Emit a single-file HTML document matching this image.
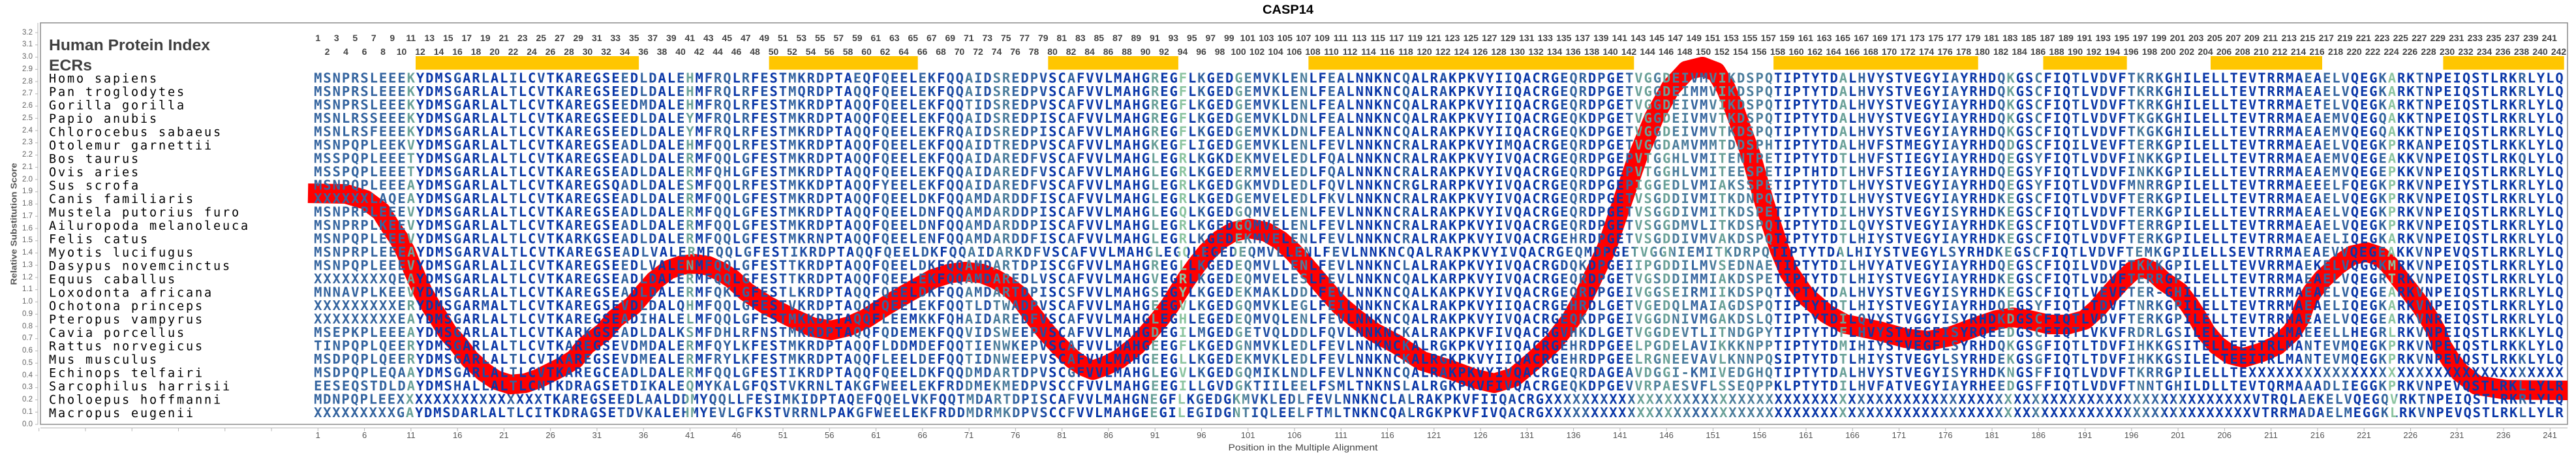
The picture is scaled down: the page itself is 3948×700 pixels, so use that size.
<!DOCTYPE html>
<html><head><meta charset="utf-8">
<style>
html,body{margin:0;padding:0;background:#fff;}
body{width:3948px;height:700px;position:relative;overflow:hidden;}
svg{position:absolute;left:0;top:0;display:block;}
.sp{font-family:"DejaVu Sans Mono",monospace;font-size:18.5px;fill:#000;letter-spacing:2.86px;}
.sq{font-family:"DejaVu Sans Mono",monospace;font-size:20.5px;font-weight:bold;}
.hd{font-family:"Liberation Sans",Arial,sans-serif;font-weight:bold;font-size:24px;fill:#404040;}
stop.c0{stop-color:#0a37a8}
stop.c1{stop-color:#1f4ea4}
stop.c2{stop-color:#34649f}
stop.c3{stop-color:#4c7d9c}
stop.c4{stop-color:#6aa198}
stop.c5{stop-color:#8cc4a0}
.row{position:absolute;display:flex;font-family:"Liberation Sans",Arial,sans-serif;white-space:nowrap;}
.row span{flex:none;text-align:center;}
.tn{font-weight:bold;font-size:14px;line-height:14px;color:#444;}
.tn span{width:28.508px;}
.xl{font-size:13px;line-height:13px;color:#555;top:660px;left:451.665px;}
.xl span{width:71.27px;}
.yl{position:absolute;left:0;top:40.625px;width:50px;font-family:"Liberation Sans",Arial,sans-serif;font-size:11.5px;color:#666;text-align:right;}
.yl div{height:18.75px;line-height:18.75px;}
</style></head>
<body>
<svg width="3948" height="700" viewBox="0 0 3948 700" xmlns="http://www.w3.org/2000/svg">
<defs>
<linearGradient id="g" gradientUnits="userSpaceOnUse" x1="480.2" y1="0" x2="3929.7" y2="0">
<stop offset="0" class="c2"/><stop offset=".04132" class="c2"/>
<stop offset=".04132" class="c4"/><stop offset=".04545" class="c4"/>
<stop offset=".04545" class="c0"/><stop offset=".06198" class="c0"/>
<stop offset=".06198" class="c1"/><stop offset=".06612" class="c1"/>
<stop offset=".06612" class="c0"/><stop offset=".07438" class="c0"/>
<stop offset=".07438" class="c1"/><stop offset=".07851" class="c1"/>
<stop offset=".07851" class="c0"/><stop offset=".08678" class="c0"/>
<stop offset=".08678" class="c2"/><stop offset=".09091" class="c2"/>
<stop offset=".09091" class="c0"/><stop offset=".09917" class="c0"/>
<stop offset=".09917" class="c1"/><stop offset=".10331" class="c1"/>
<stop offset=".10331" class="c0"/><stop offset=".11157" class="c0"/>
<stop offset=".11157" class="c1"/><stop offset=".11570" class="c1"/>
<stop offset=".11570" class="c0"/><stop offset=".11983" class="c0"/>
<stop offset=".11983" class="c1"/><stop offset=".12397" class="c1"/>
<stop offset=".12397" class="c0"/><stop offset=".13636" class="c0"/>
<stop offset=".13636" class="c2"/><stop offset=".14050" class="c2"/>
<stop offset=".14050" class="c0"/><stop offset=".14463" class="c0"/>
<stop offset=".14463" class="c2"/><stop offset=".14876" class="c2"/>
<stop offset=".14876" class="c1"/><stop offset=".15289" class="c1"/>
<stop offset=".15289" class="c0"/><stop offset=".16116" class="c0"/>
<stop offset=".16116" class="c1"/><stop offset=".16529" class="c1"/>
<stop offset=".16529" class="c4"/><stop offset=".16942" class="c4"/>
<stop offset=".16942" class="c0"/><stop offset=".17355" class="c0"/>
<stop offset=".17355" class="c1"/><stop offset=".17769" class="c1"/>
<stop offset=".17769" class="c2"/><stop offset=".18595" class="c2"/>
<stop offset=".18595" class="c0"/><stop offset=".19008" class="c0"/>
<stop offset=".19008" class="c2"/><stop offset=".19421" class="c2"/>
<stop offset=".19421" class="c0"/><stop offset=".19835" class="c0"/>
<stop offset=".19835" class="c1"/><stop offset=".20248" class="c1"/>
<stop offset=".20248" class="c0"/><stop offset=".20661" class="c0"/>
<stop offset=".20661" class="c1"/><stop offset=".21074" class="c1"/>
<stop offset=".21074" class="c2"/><stop offset=".21488" class="c2"/>
<stop offset=".21488" class="c1"/><stop offset=".23140" class="c1"/>
<stop offset=".23140" class="c0"/><stop offset=".23967" class="c0"/>
<stop offset=".23967" class="c2"/><stop offset=".24380" class="c2"/>
<stop offset=".24380" class="c1"/><stop offset=".24793" class="c1"/>
<stop offset=".24793" class="c0"/><stop offset=".25207" class="c0"/>
<stop offset=".25207" class="c2"/><stop offset=".25620" class="c2"/>
<stop offset=".25620" class="c1"/><stop offset=".26446" class="c1"/>
<stop offset=".26446" class="c0"/><stop offset=".26860" class="c0"/>
<stop offset=".26860" class="c2"/><stop offset=".27273" class="c2"/>
<stop offset=".27273" class="c1"/><stop offset=".27686" class="c1"/>
<stop offset=".27686" class="c0"/><stop offset=".28099" class="c0"/>
<stop offset=".28099" class="c1"/><stop offset=".28926" class="c1"/>
<stop offset=".28926" class="c3"/><stop offset=".29339" class="c3"/>
<stop offset=".29339" class="c2"/><stop offset=".29752" class="c2"/>
<stop offset=".29752" class="c1"/><stop offset=".30165" class="c1"/>
<stop offset=".30165" class="c3"/><stop offset=".30992" class="c3"/>
<stop offset=".30992" class="c2"/><stop offset=".31405" class="c2"/>
<stop offset=".31405" class="c1"/><stop offset=".31818" class="c1"/>
<stop offset=".31818" class="c2"/><stop offset=".32231" class="c2"/>
<stop offset=".32231" class="c1"/><stop offset=".32645" class="c1"/>
<stop offset=".32645" class="c0"/><stop offset=".33471" class="c0"/>
<stop offset=".33471" class="c2"/><stop offset=".33884" class="c2"/>
<stop offset=".33884" class="c0"/><stop offset=".37190" class="c0"/>
<stop offset=".37190" class="c4"/><stop offset=".37603" class="c4"/>
<stop offset=".37603" class="c0"/><stop offset=".38430" class="c0"/>
<stop offset=".38430" class="c5"/><stop offset=".38843" class="c5"/>
<stop offset=".38843" class="c0"/><stop offset=".39256" class="c0"/>
<stop offset=".39256" class="c2"/><stop offset=".39669" class="c2"/>
<stop offset=".39669" class="c0"/><stop offset=".40083" class="c0"/>
<stop offset=".40083" class="c1"/><stop offset=".40496" class="c1"/>
<stop offset=".40496" class="c0"/><stop offset=".40909" class="c0"/>
<stop offset=".40909" class="c4"/><stop offset=".41322" class="c4"/>
<stop offset=".41322" class="c3"/><stop offset=".41736" class="c3"/>
<stop offset=".41736" class="c1"/><stop offset=".42562" class="c1"/>
<stop offset=".42562" class="c2"/><stop offset=".42975" class="c2"/>
<stop offset=".42975" class="c0"/><stop offset=".43388" class="c0"/>
<stop offset=".43388" class="c2"/><stop offset=".43802" class="c2"/>
<stop offset=".43802" class="c3"/><stop offset=".44215" class="c3"/>
<stop offset=".44215" class="c0"/><stop offset=".45041" class="c0"/>
<stop offset=".45041" class="c2"/><stop offset=".45455" class="c2"/>
<stop offset=".45455" class="c1"/><stop offset=".45868" class="c1"/>
<stop offset=".45868" class="c0"/><stop offset=".48347" class="c0"/>
<stop offset=".48347" class="c2"/><stop offset=".48760" class="c2"/>
<stop offset=".48760" class="c0"/><stop offset=".50000" class="c0"/>
<stop offset=".50000" class="c1"/><stop offset=".50413" class="c1"/>
<stop offset=".50413" class="c0"/><stop offset=".52893" class="c0"/>
<stop offset=".52893" class="c1"/><stop offset=".53306" class="c1"/>
<stop offset=".53306" class="c0"/><stop offset=".55372" class="c0"/>
<stop offset=".55372" class="c1"/><stop offset=".55785" class="c1"/>
<stop offset=".55785" class="c2"/><stop offset=".56612" class="c2"/>
<stop offset=".56612" class="c0"/><stop offset=".57025" class="c0"/>
<stop offset=".57025" class="c1"/><stop offset=".57438" class="c1"/>
<stop offset=".57438" class="c0"/><stop offset=".58264" class="c0"/>
<stop offset=".58264" class="c2"/><stop offset=".58678" class="c2"/>
<stop offset=".58678" class="c4"/><stop offset=".59504" class="c4"/>
<stop offset=".59504" class="c3"/><stop offset=".59917" class="c3"/>
<stop offset=".59917" class="c4"/><stop offset=".60331" class="c4"/>
<stop offset=".60331" class="c3"/><stop offset=".61157" class="c3"/>
<stop offset=".61157" class="c2"/><stop offset=".61983" class="c2"/>
<stop offset=".61983" class="c3"/><stop offset=".62397" class="c3"/>
<stop offset=".62397" class="c4"/><stop offset=".62810" class="c4"/>
<stop offset=".62810" class="c3"/><stop offset=".64876" class="c3"/>
<stop offset=".64876" class="c0"/><stop offset=".67769" class="c0"/>
<stop offset=".67769" class="c4"/><stop offset=".68182" class="c4"/>
<stop offset=".68182" class="c0"/><stop offset=".68595" class="c0"/>
<stop offset=".68595" class="c2"/><stop offset=".69008" class="c2"/>
<stop offset=".69008" class="c0"/><stop offset=".69421" class="c0"/>
<stop offset=".69421" class="c1"/><stop offset=".69835" class="c1"/>
<stop offset=".69835" class="c0"/><stop offset=".72314" class="c0"/>
<stop offset=".72314" class="c1"/><stop offset=".72727" class="c1"/>
<stop offset=".72727" class="c2"/><stop offset=".73140" class="c2"/>
<stop offset=".73140" class="c0"/><stop offset=".74793" class="c0"/>
<stop offset=".74793" class="c2"/><stop offset=".75207" class="c2"/>
<stop offset=".75207" class="c4"/><stop offset=".75620" class="c4"/>
<stop offset=".75620" class="c0"/><stop offset=".76446" class="c0"/>
<stop offset=".76446" class="c3"/><stop offset=".76860" class="c3"/>
<stop offset=".76860" class="c0"/><stop offset=".78099" class="c0"/>
<stop offset=".78099" class="c1"/><stop offset=".78512" class="c1"/>
<stop offset=".78512" class="c0"/><stop offset=".79339" class="c0"/>
<stop offset=".79339" class="c1"/><stop offset=".79752" class="c1"/>
<stop offset=".79752" class="c0"/><stop offset=".80579" class="c0"/>
<stop offset=".80579" class="c2"/><stop offset=".80992" class="c2"/>
<stop offset=".80992" class="c3"/><stop offset=".81405" class="c3"/>
<stop offset=".81405" class="c2"/><stop offset=".82231" class="c2"/>
<stop offset=".82231" class="c0"/><stop offset=".82645" class="c0"/>
<stop offset=".82645" class="c2"/><stop offset=".83058" class="c2"/>
<stop offset=".83058" class="c0"/><stop offset=".88430" class="c0"/>
<stop offset=".88430" class="c2"/><stop offset=".88843" class="c2"/>
<stop offset=".88843" class="c0"/><stop offset=".89256" class="c0"/>
<stop offset=".89256" class="c2"/><stop offset=".90496" class="c2"/>
<stop offset=".90496" class="c0"/><stop offset=".91736" class="c0"/>
<stop offset=".91736" class="c2"/><stop offset=".92149" class="c2"/>
<stop offset=".92149" class="c5"/><stop offset=".92562" class="c5"/>
<stop offset=".92562" class="c0"/><stop offset=".93388" class="c0"/>
<stop offset=".93388" class="c2"/><stop offset=".93802" class="c2"/>
<stop offset=".93802" class="c0"/><stop offset=".97934" class="c0"/>
<stop offset=".97934" class="c2"/><stop offset=".98347" class="c2"/>
<stop offset=".98347" class="c0"/><stop offset="1" class="c0"/>
</linearGradient>
<clipPath id="plot"><rect x="62" y="35" width="3873" height="615"/></clipPath>
</defs>

<!-- title -->
<text x="1974" y="21" text-anchor="middle" font-family="Liberation Sans, Arial, sans-serif" font-size="19" font-weight="bold" fill="#000" textLength="78" lengthAdjust="spacingAndGlyphs">CASP14</text>

<!-- axes -->
<rect x="62" y="35" width="3873" height="615" fill="none" stroke="#8c8c8c" stroke-width="1.5"/>
<line x1="58" y1="35" x2="58" y2="650.5" stroke="#b4b4b4" stroke-width="1"/>
<line x1="56" y1="49.5" x2="56" y2="651" stroke="#b4b4b4" stroke-width="4" stroke-dasharray="1 17.75"/>
<line x1="62" y1="655.5" x2="3935" y2="655.5" stroke="#b4b4b4" stroke-width="1"/>
<line x1="59.2" y1="658" x2="3936" y2="658" stroke="#b4b4b4" stroke-width="5" stroke-dasharray="1 70.27"/>

<text transform="translate(25.5,343) rotate(-90)" text-anchor="middle" font-family="Liberation Sans, Arial, sans-serif" font-size="13" font-weight="bold" fill="#555" textLength="187" lengthAdjust="spacingAndGlyphs">Relative Substitution Score</text>
<text x="1997" y="690" text-anchor="middle" font-family="Liberation Sans, Arial, sans-serif" font-size="14" fill="#444" textLength="229" lengthAdjust="spacingAndGlyphs">Position in the Multiple Alignment</text>

<!-- ECR bars -->
<g fill="#ffc600">
<rect x="637.0" y="86" width="342.1" height="20.7"/>
<rect x="1178.6" y="86" width="228.1" height="20.7"/>
<rect x="1606.3" y="86" width="199.6" height="20.7"/>
<rect x="2005.4" y="86" width="498.9" height="20.7"/>
<rect x="2718.1" y="86" width="313.6" height="20.7"/>
<rect x="3131.4" y="86" width="128.3" height="20.7"/>
<rect x="3388.0" y="86" width="171.0" height="20.7"/>
<rect x="3744.4" y="86" width="185.3" height="20.7"/>
</g>

<!-- headings -->
<text class="hd" x="75" y="77" textLength="247" lengthAdjust="spacingAndGlyphs">Human Protein Index</text>
<text class="hd" x="75" y="108" textLength="66" lengthAdjust="spacingAndGlyphs">ECRs</text>

<!-- red curve -->
<g clip-path="url(#plot)">
<polyline fill="none" stroke="#ff0000" stroke-width="30" stroke-linejoin="round" stroke-linecap="butt" points="472,296 530,297 560,306 584,324 597,345 611,365 622,386 630,406 639,427 648,447 660,468 673,488 686,509 704,529 720,550 742,570 760,582 782,589 805,587 825,580 845,570 865,560 881,550 898,529 925,509 943,488 970,468 988,447 1003,430 1025,413 1045,406 1064,404 1085,407 1105,416 1122,427 1144,447 1176,468 1216,488 1245,501 1274,506 1300,500 1327,488 1358,468 1394,447 1430,427 1455,419 1479,416 1505,419 1525,427 1542,437 1559,450 1572,468 1587,488 1604,509 1622,529 1644,550 1660,561 1675,567 1695,560 1715,550 1742,529 1760,509 1778,488 1793,468 1806,447 1819,427 1834,406 1850,386 1870,367 1890,355 1915,350 1940,355 1962,368 1982,386 2000,406 2018,427 2035,447 2054,468 2078,488 2106,509 2140,527 2180,553 2225,567 2260,580 2290,587 2320,578 2350,553 2381,524 2408,489 2428,453 2445,417 2462,381 2486,310 2510,240 2535,180 2560,135 2585,108 2609,102 2630,110 2645,135 2658,167 2684,239 2704,310 2727,381 2742,417 2767,453 2800,481 2827,496 2880,507 2920,518 2955,522 2990,515 3030,500 3060,490 3085,486 3110,490 3140,497 3170,497 3195,490 3215,472 3232,452 3250,432 3268,415 3285,410 3300,416 3315,430 3340,447 3356,468 3369,488 3381,509 3398,529 3418,543 3438,548 3465,540 3490,529 3512,509 3525,488 3532,468 3544,447 3560,427 3583,406 3605,391 3627,386 3648,393 3662,406 3678,427 3694,447 3710,468 3723,488 3735,509 3742,529 3755,550 3770,570 3796,590 3840,597 3936,598"/>
</g>

<!-- species -->
<g class="sp">
<text x="75" y="126.7">Homo sapiens</text>
<text x="75" y="147.2">Pan troglodytes</text>
<text x="75" y="167.7">Gorilla gorilla</text>
<text x="75" y="188.2">Papio anubis</text>
<text x="75" y="208.7">Chlorocebus sabaeus</text>
<text x="75" y="229.2">Otolemur garnettii</text>
<text x="75" y="249.7">Bos taurus</text>
<text x="75" y="270.2">Ovis aries</text>
<text x="75" y="290.7">Sus scrofa</text>
<text x="75" y="311.2">Canis familiaris</text>
<text x="75" y="331.7">Mustela putorius furo</text>
<text x="75" y="352.2">Ailuropoda melanoleuca</text>
<text x="75" y="372.7">Felis catus</text>
<text x="75" y="393.2">Myotis lucifugus</text>
<text x="75" y="413.7">Dasypus novemcinctus</text>
<text x="75" y="434.2">Equus caballus</text>
<text x="75" y="454.7">Loxodonta africana</text>
<text x="75" y="475.2">Ochotona princeps</text>
<text x="75" y="495.7">Pteropus vampyrus</text>
<text x="75" y="516.2">Cavia porcellus</text>
<text x="75" y="536.7">Rattus norvegicus</text>
<text x="75" y="557.2">Mus musculus</text>
<text x="75" y="577.7">Echinops telfairi</text>
<text x="75" y="598.2">Sarcophilus harrisii</text>
<text x="75" y="618.7">Choloepus hoffmanni</text>
<text x="75" y="639.2">Macropus eugenii</text>
</g>

<!-- sequences -->
<g class="sq" fill="url(#g)">
<text x="481.1" y="126.7" textLength="3447.6" lengthAdjust="spacing">MSNPRSLEEEKYDMSGARLALILCVTKAREGSEEDLDALEHMFRQLRFESTMKRDPTAEQFQEELEKFQQAIDSREDPVSCAFVVLMAHGREGFLKGEDGEMVKLENLFEALNNKNCQALRAKPKVYIIQACRGEQRDPGETVGGDEIVMVIKDSPQTIPTYTDALHVYSTVEGYIAYRHDQKGSCFIQTLVDVFTKRKGHILELLTEVTRRMAEAELVQEGKARKTNPEIQSTLRKRLYLQ</text>
<text x="481.1" y="147.2" textLength="3447.6" lengthAdjust="spacing">MSNPRSLEEEKYDMSGARLALTLCVTKAREGSEEDLDALEHMFRQLRFESTMQRDPTAQQFQEELEKFQQAIDSREDPVSCAFVVLMAHGREGFLKGEDGEMVKLENLFEALNNKNCQALRAKPKVYIIQACRGEQRDPGETVGGDEIMMVIKDSPQTIPTYTDALHVYSTVEGYIAYRHDQKGSCFIQTLVDVFTKRKGHILELLTEVTRRMAEAELVQEGKARKTNPEIQSTLRKRLYLQ</text>
<text x="481.1" y="167.7" textLength="3447.6" lengthAdjust="spacing">MSNPRSLEEEKYDMSGARLALTLCVTKAREGSEEDMDALEHMFRQLRFESTMKRDPTAQQFQEELEKFQQTIDSREDPVSCAFVVLMAHGREGFLKGEDGEMVKLENLFEALNNKNCQALRAKPKVYIIQACRGEQRDPGETVGGDEIVMVIKDSPQTIPTYTDALHVYSTVEGYIAYRHDQKGSCFIQTLVDVFTKRKGHILELLTEVTRRMAETELVQEGKARKTNPEIQSTLRKRLYLQ</text>
<text x="481.1" y="188.2" textLength="3447.6" lengthAdjust="spacing">MSNLRSSEEEKYDMSGARLALTLCVTKAREGSEEDLDALEYMFRQLRFESTMKRDPTAQQFQEELEKFQQAIDSREDPISCAFVVLMAHGREGFLKGEDGEMVKLDNLFEALNNKNCQALRAKPKVYIIQACRGEQKDPGETVGGDEIVMVTKDSPQTIPTYTDALHVYSTVEGYIAYRHDQKGSCFIQTLVDVFTKGKGHILELLTEVTRRMAEAEMVQEGQAKKTNPEIQSTLRKRLYLQ</text>
<text x="481.1" y="208.7" textLength="3447.6" lengthAdjust="spacing">MSNLRSFEEEKYDMSGARLALTLCVTKAREGSEEDLDALEYMFRQLRFESTMKRDPTAQQFQEELEKFRQAIDSREDPISCAFVVLMAHGREGFLKGEDGEMVKLDNLFEALNNKNCQALRAKPKVYIIQACRGEQKDPGETVGGDEIVMVTKDSPQTIPTYTDALHVYSTVEGYIAYRHDQKGSCFIQTLVDVFTKGKGHILELLTEVTRRMAEAEMVQEGQAKKTNPEIQSTLRKRLYLQ</text>
<text x="481.1" y="229.2" textLength="3447.6" lengthAdjust="spacing">MSNPQPLEEKVYDMSGARLALTLCVTKAREGSEADLDALEHMFQQLRFESTMKRDPTAQQFQEELEKFQQAIDTREDPVSCAFVVLMAHGKEGFLIGEDGEMVKLENLFEVLNNKNCRALRAKPKVYIMQACRGEQRDPGETVGGDAMVMMTDDSPHTIPTYTDALHVFSTMEGYIAYRHDQDGSCFIQILVEVFTERKGPILELLTEVTRRMAEAELVQEGKPRKANPEIQSTLRKKLYLQ</text>
<text x="481.1" y="249.7" textLength="3447.6" lengthAdjust="spacing">MSSPQPLEEETYDMSGARLALTLCVTKAREGSEADLDALERMFQQLGFESTMKRDPTAQQFQEELEKFQQAIDAREDFVSCAFVVLMAHGLEGRLKGKDEKMVELEDLFQALNNKNCRALRAKPKVYIVQACRGEQRDPGEPVTGGHLVMITENTPETIPTYTDTLHVFSTIEGYIAYRHDQEGSYFIQTLVDVFINKKGPILELLTEVTRRMAEAEMVQEGEAKKVNPEIQSTLRKQLYLQ</text>
<text x="481.1" y="270.2" textLength="3447.6" lengthAdjust="spacing">MSSPQPLEEETYDMSGARLALTLCVTKAREGSEADLDALERMFQHLGFESTMKRDPTAQQFQEELEKFQQAIDAREDFVSCAFVVLMAHGLEGRLKGEDERMVELEDLFQALNNKNCRALRAKPKVYIVQACRGEQRDPGEPVTGGHLVMITEESPETIPTHTDTLHVFSTIEGYIAYRHDQEGSYFIQTLVDVFINKKGPILELLTEVTRRMAEAEMVQEGEPKKVNPEIQSTLRKRLYLQ</text>
<text x="481.1" y="290.7" textLength="3447.6" lengthAdjust="spacing">MSNPQPLEEEAYDMSGARLALTLCVTKAREGSQADLDALESMFQQLRFESTMKKDPTAQQFYEELEKFQQAIDAREDFVSCAFVVLMAHGLEGRLKGEDGKMVDLEDLFQVLNNKNCRGLRARPKVYIVQACRGEQRDPGEPIGGEDLVMIAKSSPETIPTYTDTLHVYSTVEGYIAYRHDQEGSYFIQTLVDVFMNRRGPILELLTEVTRRMAEEELFQEGKPRKVNPEIYSTLRKRLYLQ</text>
<text x="481.1" y="311.2" textLength="3447.6" lengthAdjust="spacing">XXXXXXLAQEAYDMSGARLALTLCVTKAREGSEADLDALERMFQQLGFESTMKRDPTAQQFQEELDKFQQAMDARDDFISCAFVVLMAHGLEGRLKGEDGEMVELEDLFKVLNNKNCRALRAKPKVYIVQACRGEQRDPGETVSGDDIVMITKDNPQTIPTYTDILHVYSTVEGYIAYRHDKEGSCFIQTLVDVFTERKGPILELLTEVTRRMAEAELVQEGKPRKVNPEIQSTLRKRLYLQ</text>
<text x="481.1" y="331.7" textLength="3447.6" lengthAdjust="spacing">MSNPRPLEEEVYDMSGARLALTLCVTKAREGSEADLDALERMFQQLGFESTMKRDPTAQQFQEELDNFQQAMDARDDPISCAFVVLMAHGLEGQLKGEDGQMVELENLFEVLNNKNCRALRAKPKVYIVQACRGEQRDPGETVSGGDIVMITKDSPETIPTYTDILHVYSTVEGYISYRHDKEGSCFIQTLVDVFTERKGPILELLTEVTRRMAEAELVQEGKPRKVNPEIQSTLRKRLYLQ</text>
<text x="481.1" y="352.2" textLength="3447.6" lengthAdjust="spacing">MSNPRPLKEEVYDMSGARLALTLCVTKAREGSEADLDALERMFQQLGFESTMKRDPTAQQFQEELDNFQQAMDARDDPISCAFVVLMAHGLEGRLKGEDGQMVELENLFEVLNNKNCRALRAKPKVYIVQACRGEQRDPGETVSGGDMVLITKDSPQTIPTYTDILQVYSTVEGYIAYRHDKEGSCFIQTLVDVFTERRGPILELLTEVTRRMAEAELVQEGKPRKVNPEIQSTLRKRLYLQ</text>
<text x="481.1" y="372.7" textLength="3447.6" lengthAdjust="spacing">MSNPQPLEEEVYDMSGARLALTLCVTKARKGSEADLDALERMFQQLGFESTMKRNPTAQQFQEELENFQQAMDARDDFISCAFVVLMAHGLEGRLKGEDEKMVELENLFEVLNNKNCRALRAKPKVYIVQACRGEHRDPGETVSGDDIVMVAKDSPQTIPTYTDTLHIYSTVEGYIAYRHDKEGSCFIQTLVDVFTERKGPILELLTEVTRRMAEAELIQEGKARKVNPEIQSTLRKRLYLQ</text>
<text x="481.1" y="393.2" textLength="3447.6" lengthAdjust="spacing">MSNPRPLEEEAYDMSGARVALTLCVTKAREGSEADLVALERMFQQLGFESTIKRDPTAQQFQEELDKFQQAIDARKDFVSCAFVVLMAHGLEGQLEGEDEQMVLLENLFEVLNNKNCQALRAKPKVYIVQACRGEQMDPGETVGGNIEMITKDRPQTIPTYTDALHIYSTVEGYLSYRHDKEGSCFIQTLVDVFTEMKGPILELLSEVTRRMAEAEVVQEGEAKKVNPEVQSTLRKRLYLQ</text>
<text x="481.1" y="413.7" textLength="3447.6" lengthAdjust="spacing">MSNPQPLEEEVYDMSGARLALILCVTKAREGSEEDLVALENMFQQLGFESTTKRDPTAQQFQEELDKFQQAMDARTDPISCGFVVLMAHGREGLLKGEDEQMVLLENLFEVLNNKNCLALRAKPKVYIVQACRGDQKDPGEIIPGDDILMVSEDNAETIPTYTDILHVYATVEGYIAYRHDQEGSCFIQILVDVFTKKKGPILELLTEVVRRMAEKELVQGGKMRKVNPEIQSTLRKRLYLQ</text>
<text x="481.1" y="434.2" textLength="3447.6" lengthAdjust="spacing">XXXXXXXXQEAYDMSGARLALTLCVTKAREGSEADLDALERMFQQLGFESTTKRDPTAQQFQEELEKFQQAMDAREDLVSCAFVVLMAHGVEGRLKGEDEQMVELESLFEVLNNKNCQALKARPKVYIVQACRGEQRDPGETVGSDDIMMIAKDSPETIPTYTDTLHIYSTVEGYIAYRHDKEGSCFIQTLVDVFTERRGPILELLTEVTRRMAEAELVQEGRTRKVNPEIQSTLRKRLYLQ</text>
<text x="481.1" y="454.7" textLength="3447.6" lengthAdjust="spacing">MNNAVPLKEEVYDMSGARLALTLCVTKAREGSEADLDALERMFQKLGFESTLKRDPTAQQFQEELDKFQQAMDARTDPISCSFVVLMAHGSEGYLKGEDEKMAKLDDLFEVLNNKNCQALKAKPKVYIVQACRGEQRDPGEIVGGSEIRMIIKDSPQTIPTYTDALHVYSTVEGYISYRHDKEGSCFIQTLVEVFTER-GHILELLTEVTRRMAEAELVQEGEARKVNPEIQSTLRKRLYLQ</text>
<text x="481.1" y="475.2" textLength="3447.6" lengthAdjust="spacing">XXXXXXXXXERYDMSGARMALTLCVTKAREGSEVDLDALQHMFQQLGFESTVKRDPTAQQFQEELEKFQQTLDTWADPVSCAFVVLMAHGEEGVLKGEDGQMVKLEGLFEILNNKNCKALRAKPKVYIIQACRGEHRDLGETVGEDQLMAIAGDSPQTIPTYTDTLHIYSTVEGYIAYRHDQEGSYFIQTLTDVFTNRKGPILELLTEVTRRMAEAELIQEGKARKVNPEIQSTLRKRLYLQ</text>
<text x="481.1" y="495.7" textLength="3447.6" lengthAdjust="spacing">XXXXXXXXXEAYDMSGARLALTLCVTKAREGSEADIHALELMFQQLGFESTMKKDPTAQQFLEEMKKFQHAIDAREDFVSCAFVVLMAHGLEGHLEGEDEQMVQLENLFEVLNNKNCQALRAKPKVYIVQACRGEQKDPGEIVGGDNIVMGAKDSLQTIPTYTDILQVYSTVGGYISYRHDKDGSCFIQTLVDVFTERKGPILELLTEVTRRMAEAELVQEGEARKVNREIQSTLRKRLYLQ</text>
<text x="481.1" y="516.2" textLength="3447.6" lengthAdjust="spacing">MSEPKPLEEEAYDMSGARLALTLCVTKARKGSEADLDALKSMFDHLRFNSTMKRDPTAQQFQDEMEKFQQVIDSWEEPVSCAFVVLMAHGDEGILMGEDGETVQLDDLFQVLNNKNCKALRAKPKVFIVQACRGVHKDLGETVGGDEVTLITNDGPYTIPTYTDFLHVYSTVEGFISYRQEEDGSCFIQTLVKVFRDRLGSILELLTEVTRLMAEEELLHEGRLRKVNPEIQSTLRKKLYLQ</text>
<text x="481.1" y="536.7" textLength="3447.6" lengthAdjust="spacing">TINPQPLQEERYDMSGARLALTLCVTKAREGSEVDMDALERMFQYLKFESTMKRDPTAQQFLDDMDEFQQTIENWKEPVSCAFVVLMAHGEEGFLKGEDGNMVKLEDLFEVLNNKNCKALRGKPKVYIIQACRGEHRDPGEELPGDELAVIKKKNPPTIPTYTDMIHIYSTVEGFLSYRHDQKGSGFIQTLTDVFIHKKGSITELLEEITRLMANTEVMQEGKPRKVNPEIQSTLRKKLYLQ</text>
<text x="481.1" y="557.2" textLength="3447.6" lengthAdjust="spacing">MSDPQPLQEERYDMSGARLALTLCVTKAREGSEVDMEALERMFRYLKFESTMKRDPTAQQFLEELDEFQQTIDNWEEPVSCAFVVLMAHGEEGLLKGEDEKMVKLEDLFEVLNNKNCKALRGKPKVYIIQACRGEHRDPGEELRGNEEVAVLKNNPQSIPTYTDTLHIYSTVEGYLSYRHDEKGSGFIQTLTDVFIHKKGSILELTEEITRLMANTEVMQEGKPRKVNPEVQSTLRKKLYLQ</text>
<text x="481.1" y="577.7" textLength="3447.6" lengthAdjust="spacing">MSDPQPLEQAAYDMSGARLALTLCVTKAREGCEADLDALERMFQQLGFESTIKRDPTAQQFQEELDKFQQDMDARTDPVSCGFVVLMAHGLEGVLKGEDGQMIKLNDLFEVLNNKNCQALRAKPKVYIVQACRGEQRDAGEAVDGGI-KMIVEDGHQTIPTYTDALHVYSTVEGYISYRHDKNGSFFIQTLVDVFTKRRGPILELLTEXXXXXXXXXXXXXXXXXXXXXXXXXXXXXXXXXX</text>
<text x="481.1" y="598.2" textLength="3447.6" lengthAdjust="spacing">EESEQSTDLDAYDMSHALLALTLCNTKDRAGSETDIKALEQMYKALGFQSTVKRNLTAKGFWEELEKFRDDMEKMEDPVSCCFVVLMAHGEEGILLGVDGKTIILEELFSMLTNKNSLALRGKPKVFIVQACRGEQKDPGEVVRPAESVFLSSEQPPKLPTYTDILHVFATVEGYIAYRHEEDGSFFIQTLVDVFTNNTGHILDLLTEVTQRMAAADLIEGGKPRKVNPEVQSTLRKLLYLR</text>
<text x="481.1" y="618.7" textLength="3447.6" lengthAdjust="spacing">MDNPQPLEEXXXXXXXXXXXXXXXXTKAREGSEEDLAALDDMYQQLLFESIMKIDPTAQEFQQELVKFQQTMDARTDPISCAFVVLMAHGNEGFLKGEDGKMVKLEDLFEVLNNKNCLALRAKPKVFIIQACRGXXXXXXXXXXXXXXXXXXXXXXXXXXXXXXXXXXXXXXXXXXXXXXXXXXXXXXXXXXXXXXXXXXXXXXXXXXXXXVTRQLAEKELVQEGQVRKTNPEIQSTLRKRLYLQ</text>
<text x="481.1" y="639.2" textLength="3447.6" lengthAdjust="spacing">XXXXXXXXXGAYDMSDARLALTLCITKDRAGSETDVKALEHMYEVLGFKSTVRRNLPAKGFWEELEKFRDDMDRMKDPVSCCFVVLMAHGEEGILEGIDGNTIQLEELFTMLTNKNCQALRGKPKVFIVQACRGXXXXXXXXXXXXXXXXXXXXXXXXXXXXXXXXXXXXXXXXXXXXXXXXXXXXXXXXXXXXXXXXXXXXXXXXXXXXXVTRRMADAELMEGGKLRKVNPEVQSTLRKLLYLR</text>
</g>
</svg>

<!-- top position numbers -->
<div class="row tn" style="left:473.05px;top:51.15px;"><span>1</span><span>3</span><span>5</span><span>7</span><span>9</span><span>11</span><span>13</span><span>15</span><span>17</span><span>19</span><span>21</span><span>23</span><span>25</span><span>27</span><span>29</span><span>31</span><span>33</span><span>35</span><span>37</span><span>39</span><span>41</span><span>43</span><span>45</span><span>47</span><span>49</span><span>51</span><span>53</span><span>55</span><span>57</span><span>59</span><span>61</span><span>63</span><span>65</span><span>67</span><span>69</span><span>71</span><span>73</span><span>75</span><span>77</span><span>79</span><span>81</span><span>83</span><span>85</span><span>87</span><span>89</span><span>91</span><span>93</span><span>95</span><span>97</span><span>99</span><span>101</span><span>103</span><span>105</span><span>107</span><span>109</span><span>111</span><span>113</span><span>115</span><span>117</span><span>119</span><span>121</span><span>123</span><span>125</span><span>127</span><span>129</span><span>131</span><span>133</span><span>135</span><span>137</span><span>139</span><span>141</span><span>143</span><span>145</span><span>147</span><span>149</span><span>151</span><span>153</span><span>155</span><span>157</span><span>159</span><span>161</span><span>163</span><span>165</span><span>167</span><span>169</span><span>171</span><span>173</span><span>175</span><span>177</span><span>179</span><span>181</span><span>183</span><span>185</span><span>187</span><span>189</span><span>191</span><span>193</span><span>195</span><span>197</span><span>199</span><span>201</span><span>203</span><span>205</span><span>207</span><span>209</span><span>211</span><span>213</span><span>215</span><span>217</span><span>219</span><span>221</span><span>223</span><span>225</span><span>227</span><span>229</span><span>231</span><span>233</span><span>235</span><span>237</span><span>239</span><span>241</span></div>
<div class="row tn" style="left:487.3px;top:72.15px;"><span>2</span><span>4</span><span>6</span><span>8</span><span>10</span><span>12</span><span>14</span><span>16</span><span>18</span><span>20</span><span>22</span><span>24</span><span>26</span><span>28</span><span>30</span><span>32</span><span>34</span><span>36</span><span>38</span><span>40</span><span>42</span><span>44</span><span>46</span><span>48</span><span>50</span><span>52</span><span>54</span><span>56</span><span>58</span><span>60</span><span>62</span><span>64</span><span>66</span><span>68</span><span>70</span><span>72</span><span>74</span><span>76</span><span>78</span><span>80</span><span>82</span><span>84</span><span>86</span><span>88</span><span>90</span><span>92</span><span>94</span><span>96</span><span>98</span><span>100</span><span>102</span><span>104</span><span>106</span><span>108</span><span>110</span><span>112</span><span>114</span><span>116</span><span>118</span><span>120</span><span>122</span><span>124</span><span>126</span><span>128</span><span>130</span><span>132</span><span>134</span><span>136</span><span>138</span><span>140</span><span>142</span><span>144</span><span>146</span><span>148</span><span>150</span><span>152</span><span>154</span><span>156</span><span>158</span><span>160</span><span>162</span><span>164</span><span>166</span><span>168</span><span>170</span><span>172</span><span>174</span><span>176</span><span>178</span><span>180</span><span>182</span><span>184</span><span>186</span><span>188</span><span>190</span><span>192</span><span>194</span><span>196</span><span>198</span><span>200</span><span>202</span><span>204</span><span>206</span><span>208</span><span>210</span><span>212</span><span>214</span><span>216</span><span>218</span><span>220</span><span>222</span><span>224</span><span>226</span><span>228</span><span>230</span><span>232</span><span>234</span><span>236</span><span>238</span><span>240</span><span>242</span></div>

<!-- x tick labels -->
<div class="row xl"><span>1</span><span>6</span><span>11</span><span>16</span><span>21</span><span>26</span><span>31</span><span>36</span><span>41</span><span>46</span><span>51</span><span>56</span><span>61</span><span>66</span><span>71</span><span>76</span><span>81</span><span>86</span><span>91</span><span>96</span><span>101</span><span>106</span><span>111</span><span>116</span><span>121</span><span>126</span><span>131</span><span>136</span><span>141</span><span>146</span><span>151</span><span>156</span><span>161</span><span>166</span><span>171</span><span>176</span><span>181</span><span>186</span><span>191</span><span>196</span><span>201</span><span>206</span><span>211</span><span>216</span><span>221</span><span>226</span><span>231</span><span>236</span><span>241</span></div>

<!-- y tick labels -->
<div class="yl"><div>3.2</div><div>3.1</div><div>3.0</div><div>2.9</div><div>2.8</div><div>2.7</div><div>2.6</div><div>2.5</div><div>2.4</div><div>2.3</div><div>2.2</div><div>2.1</div><div>2.0</div><div>1.9</div><div>1.8</div><div>1.7</div><div>1.6</div><div>1.5</div><div>1.4</div><div>1.3</div><div>1.2</div><div>1.1</div><div>1.0</div><div>0.9</div><div>0.8</div><div>0.7</div><div>0.6</div><div>0.5</div><div>0.4</div><div>0.3</div><div>0.2</div><div>0.1</div><div>0.0</div></div>
</body></html>
